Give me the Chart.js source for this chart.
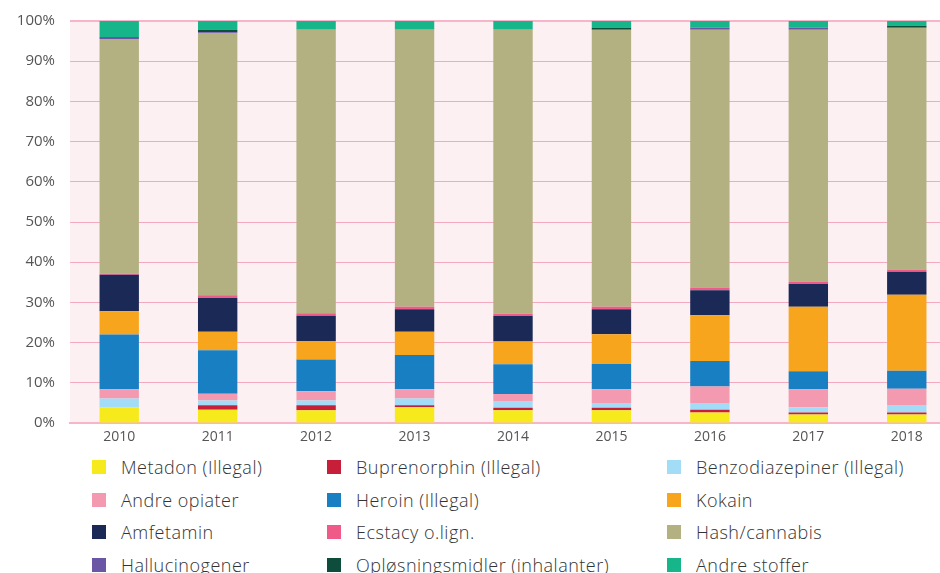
<!DOCTYPE html>
<html>
<head>
<meta charset="utf-8">
<script src="https://cdn.jsdelivr.net/npm/chart.js@4"></script>
<style>
    html, body { margin: 0; padding: 0; background: #fff; overflow: hidden; width: 940px; height: 573px; }
    #wrap { position: absolute; left: 0; top: -3px; width: 960px; height: 453px; }
    #legend { position: absolute; left: 92px; top: 451px; width: 860px; font-family: "Open Sans", sans-serif; font-weight: 300; font-size: 18px; letter-spacing: 0.5px; color: #333; }
    .item { position: absolute; height: 32px; line-height: 32px; white-space: nowrap; }
    .box { position: absolute; left: 0; top: 9px; width: 14px; height: 14px; }
    .lbl { position: absolute; left: 29px; top: 0; }
</style>
</head>
<body>
<div id="wrap"><canvas id="myChart"></canvas></div>
<div id="legend"></div>
<script>
const years = ["2010", "2011", "2012", "2013", "2014", "2015", "2016", "2017", "2018"];

const metadon = [3.9, 3.3, 3.2, 3.9, 3.2, 3.2, 2.6, 2.1, 2.1];
const buprenorphin = [0, 1.1, 1.2, 0.5, 0.6, 0.6, 0.7, 0.5, 0.5];
const benzo = [2.2, 1.2, 1.2, 1.7, 1.7, 1.2, 1.7, 1.3, 1.9];
const andreOpiater = [2.3, 1.7, 2.3, 2.3, 1.7, 3.4, 4.1, 4.5, 4.0];
const heroin = [13.6, 10.8, 7.9, 8.5, 7.4, 6.3, 6.3, 4.5, 4.5];
const kokain = [5.8, 4.6, 4.6, 5.8, 5.7, 7.4, 11.4, 16.0, 18.9];
const amfetamin = [9.1, 8.4, 6.3, 5.6, 6.3, 6.2, 6.2, 5.7, 5.7];
const ecstacy = [0.2, 0.7, 0.6, 0.6, 0.6, 0.6, 0.7, 0.6, 0.6];
const hash = [58.4, 65.2, 70.5, 68.9, 70.6, 68.9, 64.1, 62.6, 60.1];
const hallucinogener = [0.5, 0.2, 0.1, 0.1, 0.1, 0, 0.5, 0.5, 0];
const oplosning = [0, 0.6, 0, 0, 0, 0.5, 0, 0, 0.5];
const andreStoffer = [4.0, 2.2, 2.1, 2.1, 2.1, 1.7, 1.7, 1.7, 1.2];

const yTicks = ["0%", "10%", "20%", "30%", "40%", "50%", "60%", "70%", "80%", "90%", "100%"];

const series = [
    ["Metadon (Illegal)", metadon, "#f7ea1c"],
    ["Buprenorphin (Illegal)", buprenorphin, "#c71f3a"],
    ["Benzodiazepiner (Illegal)", benzo, "#a3dcf6"],
    ["Andre opiater", andreOpiater, "#f49ab0"],
    ["Heroin (Illegal)", heroin, "#1880c2"],
    ["Kokain", kokain, "#f8a51e"],
    ["Amfetamin", amfetamin, "#1b2957"],
    ["Ecstacy o.lign.", ecstacy, "#ef5a88"],
    ["Hash/cannabis", hash, "#b3b082"],
    ["Hallucinogener", hallucinogener, "#6b56a5"],
    ["Opløsningsmidler (inhalanter)", oplosning, "#0e4d3b"],
    ["Andre stoffer", andreStoffer, "#16b68a"],
];

const plotBg = {
    id: "plotBg",
    beforeDraw(chart) {
        const a = chart.chartArea;
        const c = chart.ctx;
        c.save();
        c.fillStyle = "#fcf0f2";
        c.fillRect(a.left, a.top, a.right - a.left, a.bottom - a.top);
        c.restore();
    },
};

const ctx = document.querySelector("#myChart");

new Chart(ctx, {
    type: "bar",
    data: {
        labels: years,
        datasets: series.map((s) => ({
            label: s[0],
            data: s[1],
            backgroundColor: s[2],
            borderWidth: 0,
            barPercentage: 0.4,
            categoryPercentage: 1,
        })),
    },
    options: {
        responsive: true,
        maintainAspectRatio: false,
        animation: false,
        layout: { padding: { top: 20, right: 4, left: 0, bottom: 0 } },
        plugins: {
            legend: { display: false },
            tooltip: { enabled: false },
        },
        scales: {
            x: {
                stacked: true,
                grid: { display: false, drawTicks: false },
                border: { display: true, color: "#f6b5c8", width: 2 },
                ticks: { color: "#555", font: { family: "Open Sans", size: 14 }, padding: 6 },
                afterFit: (s) => { s.height = 27; },
            },
            y: {
                stacked: true,
                min: 0,
                max: 100,
                grid: {
                    color: (c) => (c.tick.value === 100 ? "#f6b5c8" : "#f3a9bf"),
                    lineWidth: (c) => (c.tick.value === 100 ? 2 : 1),
                    drawTicks: false,
                },
                border: { display: false },
                ticks: {
                    stepSize: 10,
                    color: "#555",
                    font: { family: "Open Sans", size: 15 },
                    padding: 15,
                    callback: (v) => yTicks[v / 10],
                },
                afterFit: (s) => { s.width = 70; },
            },
        },
    },
    plugins: [plotBg],
});

const legend = document.querySelector("#legend");
const colX = [0, 235, 575];
series.forEach((s, i) => {
    const item = document.createElement("div");
    item.className = "item";
    item.style.left = colX[i % 3] + "px";
    item.style.top = Math.floor(i / 3) * 32.5 + "px";
    item.innerHTML = '<span class="box" style="background:' + s[2] + '"></span><span class="lbl">' + s[0] + "</span>";
    legend.appendChild(item);
});
</script>
</body>
</html>
